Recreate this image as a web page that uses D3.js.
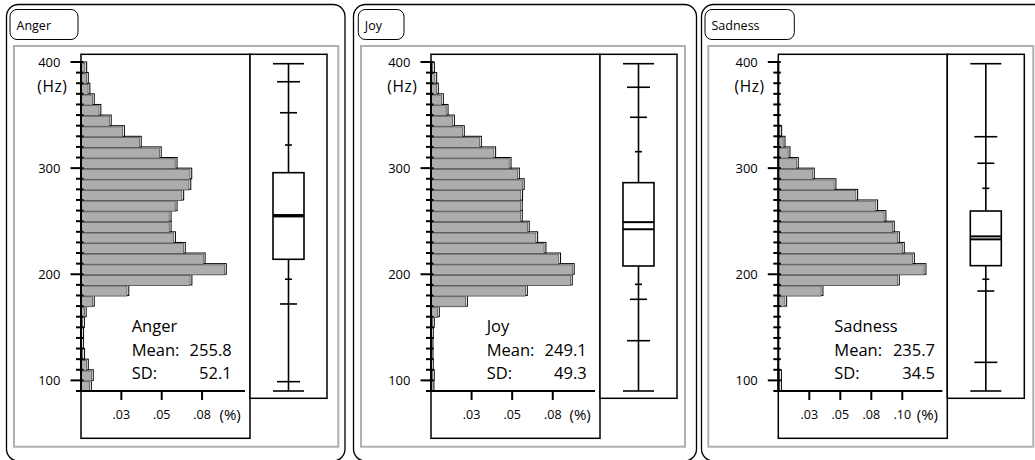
<!DOCTYPE html>
<html>
<head>
<meta charset="utf-8">
<script src="https://cdn.jsdelivr.net/npm/d3@7"></script>
<style>
  body { margin: 0; background: #fff; }
  svg { display: block; font-family: "Open Sans", sans-serif; }
</style>
</head>
<body>
<svg id="chart" width="1035" height="460"></svg>
<script>
// 10 Hz bins, lower edge of each bin
const bins = [90, 100, 110, 120, 130, 140, 150, 160, 170, 180, 190, 200, 210, 220, 230, 240,
  250, 260, 270, 280, 290, 300, 310, 320, 330, 340, 350, 360, 370, 380, 390];

// share of frames per bin
const angerShare = [0.0064, 0.0076, 0.0045, 0.0022, 0.0015, 0.0016, 0.0021, 0.0032, 0.0082, 0.0296,
  0.0687, 0.0900, 0.0769, 0.0646, 0.0585, 0.0558, 0.0558, 0.0595, 0.0636, 0.0680,
  0.0686, 0.0595, 0.0497, 0.0373, 0.0269, 0.0187, 0.0123, 0.0082, 0.0055, 0.0045, 0.0035];
const joyShare = [0.0018, 0.0020, 0.0014, 0.0012, 0.0012, 0.0014, 0.0020, 0.0051, 0.0224, 0.0593,
  0.0870, 0.0882, 0.0798, 0.0708, 0.0657, 0.0605, 0.0562, 0.0562, 0.0564, 0.0574,
  0.0544, 0.0493, 0.0398, 0.0310, 0.0205, 0.0144, 0.0105, 0.0076, 0.0045, 0.0035, 0.0021];
const sadnessShare = [0.0025, 0.0025, 0, 0, 0, 0, 0, 0, 0.0067, 0.0360,
  0.0976, 0.1191, 0.1097, 0.1016, 0.0976, 0.0935, 0.0868, 0.0801, 0.0640, 0.0465,
  0.0290, 0.0161, 0.0094, 0.0054, 0.0027, 0, 0, 0, 0, 0, 0];

// box plot stats: min, p1, p5, p10, q1, median, q3, p90, p95, p99, max
const statKeys = ['min', 'p1', 'p5', 'p10', 'q1', 'median', 'q3', 'p90', 'p95', 'p99', 'max'];
const angerStats = [90, 98.8, 172.0, 195.3, 214.1, 254.5, 295.7, 321.8, 352.2, 381.4, 398.4];
const joyStats = [90, 137.4, 176.4, 190.5, 207.8, 242.4, 286.3, 315.5, 347.9, 376.2, 398.4];
const sadnessStats = [90, 117.0, 184.2, 195.3, 208.1, 232.9, 259.6, 281.0, 304.6, 329.6, 398.4];

const emotions = ['Anger', 'Joy', 'Sadness'];
const means = [255.8, 249.1, 235.7];
const sds = [52.1, 49.3, 34.5];

const hzTicks = [100, 200, 300, 400];
const shareTicks = [[0.025, 0.05, 0.075], [0.025, 0.05, 0.075], [0.025, 0.05, 0.075, 0.1]];
const shareLabels = [['.03', '.05', '.08'], ['.03', '.05', '.08'], ['.03', '.05', '.08', '.10']];

// layout of each panel (pixels)
const layout = [
  { outer: [6.5, 338.5], title: [10, 68], gray: [14, 324.3], hx: 81, xMax: 0.1047, textDx: 50.7, textW: 100 },
  { outer: [353.5, 343], title: [358.3, 45.7], gray: [361, 324], hx: 431, xMax: 0.1041, textDx: 55.7, textW: 100 },
  { outer: [701.5, 345], title: [705, 89.3], gray: [708.3, 325], hx: 778.3, xMax: 0.1363, textDx: 56, textW: 100.7 }
];

const svg = d3.select('#chart');
const y = d3.scaleLinear().domain([90, 400]).range([391, 62]);

const histW = 169;
const boxFrameW = 77;
const frameTop = 54.3;

emotions.forEach((name, i) => {
  const L = layout[i];
  const share = [angerShare, joyShare, sadnessShare][i];
  const stats = {};
  [angerStats, joyStats, sadnessStats][i].forEach((v, k) => { stats[statKeys[k]] = v; });

  const g = svg.append('g');

  // outer rounded frame, bottom edge just below the picture
  g.append('rect')
    .attr('x', L.outer[0]).attr('y', 4.5)
    .attr('width', L.outer[1]).attr('height', 456.5)
    .attr('rx', 12)
    .attr('fill', 'none').attr('stroke', '#000').attr('stroke-width', 1.3);

  // title tab
  g.append('rect')
    .attr('x', L.title[0]).attr('y', 9.5)
    .attr('width', L.title[1]).attr('height', 30)
    .attr('rx', 7)
    .attr('fill', '#fff').attr('stroke', '#000').attr('stroke-width', 1);
  g.append('text')
    .attr('x', L.title[0] + 6.5).attr('y', 29.5)
    .attr('font-size', 12.5)
    .text(name);

  // gray inner frame
  g.append('rect')
    .attr('x', L.gray[0]).attr('y', 46)
    .attr('width', L.gray[1]).attr('height', 400.7)
    .attr('fill', 'none').attr('stroke', '#b0b0b0').attr('stroke-width', 2);

  const hx = L.hx;
  const x = d3.scaleLinear().domain([0, L.xMax]).range([hx, hx + histW]);

  // histogram frame
  g.append('rect')
    .attr('x', hx).attr('y', frameTop)
    .attr('width', histW).attr('height', 438.3 - frameTop)
    .attr('fill', '#fff').attr('stroke', '#000').attr('stroke-width', 1.5);

  // box plot frame
  const bx0 = hx + histW;
  g.append('rect')
    .attr('x', bx0).attr('y', frameTop)
    .attr('width', boxFrameW).attr('height', 398.3 - frameTop)
    .attr('fill', '#fff').attr('stroke', '#000').attr('stroke-width', 1.5);

  // bars: black outline plus slightly inset gray fill
  const barData = bins.map((b, k) => ({ lo: b, v: share[k] })).filter(d => d.v > 0);
  const bars = g.append('g');
  bars.selectAll('rect.outline')
    .data(barData)
    .join('rect')
    .attr('class', 'outline')
    .attr('x', hx)
    .attr('y', d => y(d.lo + 10))
    .attr('width', d => x(d.v) - hx)
    .attr('height', d => y(d.lo) - y(d.lo + 10))
    .attr('fill', '#fff').attr('stroke', '#000').attr('stroke-width', 1);
  bars.selectAll('rect.fill')
    .data(barData)
    .join('rect')
    .attr('class', 'fill')
    .attr('x', hx)
    .attr('y', d => y(d.lo + 10) + 1.2)
    .attr('width', d => Math.max(0, x(d.v) - hx - 1.8))
    .attr('height', d => y(d.lo) - y(d.lo + 10) - 0.6)
    .attr('fill', '#adadad').attr('stroke', '#555').attr('stroke-width', 0.8);

  // y axis ticks (every 10 Hz, longer at the labelled ones)
  const yTickVals = bins.concat([400]);
  g.append('g').selectAll('line')
    .data(yTickVals)
    .join('line')
    .attr('x1', d => hzTicks.includes(d) ? hx - 10.5 : hx - 5)
    .attr('x2', hx + 2.5)
    .attr('y1', d => y(d)).attr('y2', d => y(d))
    .attr('stroke', '#000').attr('stroke-width', 2);
  g.append('line')
    .attr('x1', hx).attr('x2', hx).attr('y1', y(400)).attr('y2', y(90))
    .attr('stroke', '#000').attr('stroke-width', 2);
  g.append('g').selectAll('text')
    .data(hzTicks)
    .join('text')
    .attr('x', hx - 20.5).attr('y', d => y(d) + 4.6)
    .attr('text-anchor', 'end')
    .attr('font-size', 13)
    .text(d => d);
  g.append('text')
    .attr('x', hx - 13.5).attr('y', 91.5)
    .attr('text-anchor', 'end')
    .attr('font-size', 15.5)
    .attr('letter-spacing', 0.6)
    .text('(Hz)');

  // x axis
  const axY = y(90);
  g.append('line')
    .attr('x1', hx).attr('x2', hx + 164)
    .attr('y1', axY).attr('y2', axY)
    .attr('stroke', '#000').attr('stroke-width', 2);
  g.append('g').selectAll('line')
    .data(shareTicks[i])
    .join('line')
    .attr('x1', d => x(d)).attr('x2', d => x(d))
    .attr('y1', axY).attr('y2', axY + 9)
    .attr('stroke', '#000').attr('stroke-width', 2);
  g.append('g').selectAll('text')
    .data(shareTicks[i])
    .join('text')
    .attr('x', d => x(d)).attr('y', 419)
    .attr('text-anchor', 'middle')
    .attr('font-size', 12.5)
    .text((d, k) => shareLabels[i][k]);
  g.append('text')
    .attr('x', hx + 138.5).attr('y', 419.5)
    .attr('font-size', 15)
    .text('(%)');

  // summary text
  const tx = hx + L.textDx;
  const tr = tx + L.textW;
  const txt = g.append('g').attr('font-size', 16.5);
  txt.append('text').attr('x', tx).attr('y', 332).text(name);
  txt.append('text').attr('x', tx).attr('y', 355.5).text('Mean:');
  txt.append('text').attr('x', tr).attr('y', 355.5).attr('text-anchor', 'end').text(means[i].toFixed(1));
  txt.append('text').attr('x', tx).attr('y', 379).text('SD:');
  txt.append('text').attr('x', tr).attr('y', 379).attr('text-anchor', 'end').text(sds[i].toFixed(1));

  // box plot
  const cx = bx0 + boxFrameW / 2;
  const bw = 31;
  const bp = g.append('g').attr('stroke', '#000').attr('stroke-width', 1.6).attr('fill', 'none');
  bp.append('line').attr('x1', cx).attr('x2', cx).attr('y1', y(stats.max)).attr('y2', y(stats.q3));
  bp.append('line').attr('x1', cx).attr('x2', cx).attr('y1', y(stats.q1)).attr('y2', y(stats.min));
  bp.append('rect')
    .attr('x', cx - bw / 2).attr('y', y(stats.q3))
    .attr('width', bw).attr('height', y(stats.q1) - y(stats.q3))
    .attr('fill', '#fff');
  const capW = { min: bw, max: bw, p1: 23, p99: 23, p5: 17, p95: 17, p10: 7, p90: 7 };
  bp.selectAll('line.cap')
    .data(Object.keys(capW))
    .join('line')
    .attr('class', 'cap')
    .attr('x1', k => cx - capW[k] / 2).attr('x2', k => cx + capW[k] / 2)
    .attr('y1', k => y(stats[k])).attr('y2', k => y(stats[k]));
  bp.selectAll('line.mid')
    .data([stats.median, means[i]])
    .join('line')
    .attr('class', 'mid')
    .attr('x1', cx - bw / 2).attr('x2', cx + bw / 2)
    .attr('y1', d => y(d)).attr('y2', d => y(d))
    .attr('stroke-width', 2);
});
</script>
</body>
</html>
